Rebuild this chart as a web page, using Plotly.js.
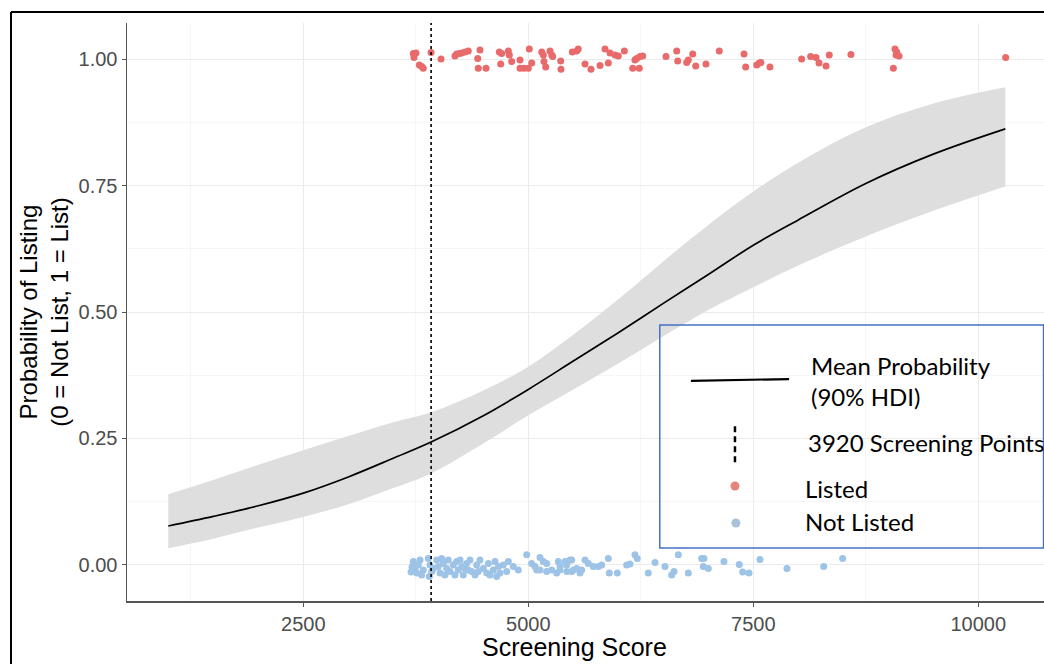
<!DOCTYPE html>
<html>
<head>
<meta charset="utf-8">
<script src="https://cdn.plot.ly/plotly-3.0.1.min.js"></script>
<style>html,body{margin:0;padding:0;background:#fff;overflow:hidden;}#chart{width:1044px;height:664px;}</style>
</head>
<body>
<div id="chart"></div>
<script>
// Mean posterior probability curve and 90% HDI band
const curveX = [1000, 1500, 2000, 2500, 3000, 3500, 3920, 4500, 5000, 5500, 6000, 6500, 7000, 7500, 8000, 8750, 9500, 10300];
const curveMean = [0.077, 0.096, 0.117, 0.142, 0.174, 0.211, 0.243, 0.295, 0.347, 0.403, 0.459, 0.517, 0.574, 0.632, 0.682, 0.754, 0.812, 0.862];
const hdiUpper = [0.140, 0.168, 0.198, 0.227, 0.255, 0.282, 0.302, 0.345, 0.392, 0.455, 0.525, 0.600, 0.672, 0.738, 0.795, 0.865, 0.912, 0.944];
const hdiLower = [0.033, 0.052, 0.074, 0.095, 0.120, 0.152, 0.181, 0.240, 0.296, 0.347, 0.398, 0.452, 0.504, 0.549, 0.592, 0.649, 0.700, 0.748];

// Cut-off line
const cutoffX = [3920];

// Listed applicants (jittered around 1)
const listedX = [3722, 3752, 3730, 3789, 3815, 3833, 3919, 4030, 4185, 4204, 4233, 4260, 4297, 4333, 4438, 4463, 4444, 4530, 4678, 4704, 4778, 4789, 4693, 4815, 4908, 4908, 4952, 5000, 5011, 5038, 5149, 5167, 5174, 5193, 5241, 5260, 5271, 5360, 5363, 5489, 5538, 5555, 5630, 5697, 5797, 5852, 5889, 5908, 5963, 6000, 6067, 6160, 6185, 6204, 6233, 6241, 6271, 6530, 6649, 6660, 6760, 6778, 6827, 6860, 6974, 7122, 7397, 7415, 7538, 7567, 7585, 7685, 8037, 8137, 8197, 8230, 8308, 8344, 8585, 9074, 9093, 9086, 9119, 9056, 10304];
const listedY = [1.011, 1.012, 1.003, 0.988, 0.985, 0.982, 1.013, 1.000, 1.006, 1.010, 1.011, 1.012, 1.014, 1.016, 1.001, 1.018, 0.982, 0.982, 1.014, 1.011, 1.016, 1.008, 0.990, 0.995, 0.998, 0.982, 0.982, 0.982, 1.020, 0.992, 1.014, 1.008, 0.995, 0.984, 1.016, 1.008, 1.005, 0.996, 0.980, 1.014, 1.016, 1.020, 0.990, 0.980, 0.987, 1.020, 0.992, 1.012, 1.008, 1.006, 1.016, 0.982, 0.998, 1.001, 0.982, 1.005, 1.006, 1.005, 1.016, 0.996, 0.993, 0.998, 1.010, 0.986, 0.990, 1.016, 1.010, 0.984, 0.988, 0.992, 0.993, 0.984, 1.000, 1.005, 1.003, 0.992, 0.986, 1.008, 1.009, 1.020, 1.014, 1.008, 1.006, 0.982, 1.003];

// Not listed applicants (jittered around 0)
const notListedX = [3697, 3708, 3722, 3741, 3778, 3760, 3815, 3833, 3797, 3889, 3908, 3927, 3900, 3944, 3982, 4000, 4019, 4037, 4056, 4093, 4074, 4111, 4130, 4167, 4185, 4204, 4222, 4241, 4260, 4278, 4297, 4315, 4333, 4352, 4371, 4408, 4426, 4444, 4463, 4500, 4538, 4556, 4574, 4611, 4630, 4648, 4667, 4685, 4722, 4760, 4778, 4833, 4889, 4982, 5038, 5074, 5093, 5130, 5130, 5167, 5204, 5204, 5260, 5315, 5333, 5352, 5352, 5408, 5426, 5427, 5463, 5482, 5482, 5500, 5538, 5574, 5593, 5630, 5667, 5722, 5778, 5815, 5889, 5900, 5989, 6093, 6130, 6185, 6211, 6333, 6408, 6519, 6593, 6619, 6667, 6778, 6926, 6952, 6944, 7000, 7174, 7344, 7382, 7452, 7574, 7874, 8282, 8493];
const notListedY = [-0.014, -0.004, 0.007, -0.007, 0.000, -0.016, -0.020, -0.010, 0.010, 0.013, 0.000, -0.013, -0.023, -0.007, 0.010, -0.003, -0.016, 0.013, 0.003, -0.007, -0.020, 0.010, -0.013, 0.000, -0.020, 0.007, -0.010, 0.010, -0.003, -0.020, -0.007, 0.003, -0.010, 0.010, -0.013, -0.020, 0.000, -0.013, 0.010, -0.007, -0.016, 0.003, -0.020, -0.010, 0.007, -0.023, -0.003, -0.016, 0.000, -0.013, 0.007, -0.003, -0.010, 0.020, 0.003, -0.003, -0.010, 0.015, -0.010, 0.007, -0.013, 0.003, -0.010, -0.016, 0.007, -0.003, -0.010, 0.007, 0.000, -0.013, 0.010, 0.010, -0.013, -0.010, -0.007, -0.016, -0.010, 0.010, 0.003, -0.003, -0.003, 0.000, 0.013, -0.016, -0.016, 0.000, 0.002, 0.020, 0.013, -0.016, 0.005, -0.003, -0.020, -0.013, 0.020, -0.016, 0.013, 0.013, -0.003, -0.007, 0.007, 0.001, -0.014, -0.016, 0.011, -0.007, -0.003, 0.013];

// Tick labels
const yTickVals = [0, 0.25, 0.5, 0.75, 1];
const yTickText = ['0.00', '0.25', '0.50', '0.75', '1.00'];
const xTickVals = [2500, 5000, 7500, 10000];
const xTickText = ['2500', '5000', '7500', '10000'];

// Legend labels
const legendLabels = ['Mean Probability', '(90% HDI)', '3920 Screening Points', 'Listed', 'Not Listed'];

const red = '#E96A6B';
const blue = '#9DC3E6';

const traces = [
  {x: curveX, y: hdiLower, type: 'scatter', mode: 'lines', line: {width: 0, color: 'rgba(0,0,0,0)', shape: 'spline'}, showlegend: false, hoverinfo: 'skip'},
  {x: curveX, y: hdiUpper, type: 'scatter', mode: 'lines', fill: 'tonexty', fillcolor: 'rgb(222,222,222)', line: {width: 0, color: 'rgba(0,0,0,0)', shape: 'spline'}, showlegend: false, hoverinfo: 'skip'},
  {x: curveX, y: curveMean, type: 'scatter', mode: 'lines', line: {color: '#000', width: 1.7, shape: 'spline'}, name: 'Mean Probability', showlegend: false},
  {x: listedX, y: listedY, type: 'scatter', mode: 'markers', marker: {color: red, size: 7}, name: 'Listed', showlegend: false},
  {x: notListedX, y: notListedY, type: 'scatter', mode: 'markers', marker: {color: blue, size: 7}, name: 'Not Listed', showlegend: false}
];

const legFont = {family: 'Lato, "Open Sans", sans-serif', size: 24, color: '#000'};

const shapes = [
  // cutoff dotted line
  {type: 'line', xref: 'x', yref: 'paper', x0: cutoffX[0], x1: cutoffX[0], y0: 0, y1: 1, line: {color: '#000', width: 1.6, dash: 'dot'}},
  // outer frame (left and top)
  {type: 'line', xref: 'paper', yref: 'paper', x0: -0.1265, x1: -0.1265, y0: -0.12, y1: 1.019, line: {color: '#000', width: 2}},
  {type: 'line', xref: 'paper', yref: 'paper', x0: -0.1265, x1: 1.01, y0: 1.019, y1: 1.019, line: {color: '#000', width: 2}},
  // legend box
  {type: 'rect', xref: 'paper', yref: 'paper', x0: 0.581, x1: 0.9995, y0: 0.0917, y1: 0.4775, line: {color: '#4472C4', width: 1.5}, fillcolor: 'rgba(0,0,0,0)'},
  // legend keys
  {type: 'line', xref: 'paper', yref: 'paper', x0: 0.615, x1: 0.722, y0: 0.381, y1: 0.384, line: {color: '#000', width: 2.2}},
  {type: 'line', xref: 'paper', yref: 'paper', x0: 0.663, x1: 0.663, y0: 0.240, y1: 0.306, line: {color: '#000', width: 2.5, dash: '6px,4px'}},
  {type: 'circle', xref: 'paper', yref: 'paper', xsizemode: 'pixel', ysizemode: 'pixel', xanchor: 0.663, yanchor: 0.199, x0: -4.5, x1: 4.5, y0: -4.5, y1: 4.5, fillcolor: '#E8837B', line: {width: 0}},
  {type: 'circle', xref: 'paper', yref: 'paper', xsizemode: 'pixel', ysizemode: 'pixel', xanchor: 0.664, yanchor: 0.135, x0: -4.5, x1: 4.5, y0: -4.5, y1: 4.5, fillcolor: '#A9C2D8', line: {width: 0}}
];

const annotations = [
  {xref: 'paper', yref: 'paper', x: 0.744, y: 0.4066, xanchor: 'left', yanchor: 'middle', text: legendLabels[0], showarrow: false, font: legFont},
  {xref: 'paper', yref: 'paper', x: 0.744, y: 0.353, xanchor: 'left', yanchor: 'middle', text: legendLabels[1], showarrow: false, font: legFont},
  {xref: 'paper', yref: 'paper', x: 0.740, y: 0.275, xanchor: 'left', yanchor: 'middle', text: legendLabels[2], showarrow: false, font: legFont},
  {xref: 'paper', yref: 'paper', x: 0.737, y: 0.194, xanchor: 'left', yanchor: 'middle', text: legendLabels[3], showarrow: false, font: legFont},
  {xref: 'paper', yref: 'paper', x: 0.737, y: 0.138, xanchor: 'left', yanchor: 'middle', text: legendLabels[4], showarrow: false, font: legFont},
  // x axis title
  {xref: 'paper', yref: 'paper', x: 0.4885, y: -0.0796, xanchor: 'center', yanchor: 'middle', text: 'Screening Score', showarrow: false, font: {family: '"Liberation Sans", Arial, sans-serif', size: 25, color: '#000'}}
];

const layout = {
  width: 1044, height: 664,
  margin: {l: 127, r: 0, t: 23, b: 63},
  paper_bgcolor: '#fff', plot_bgcolor: '#fff',
  showlegend: false,
  font: {family: '"Liberation Sans", Arial, sans-serif'},
  xaxis: {
    range: [541, 10730], tickvals: xTickVals, ticktext: xTickText,
    showgrid: true, gridcolor: '#ebebeb', gridwidth: 1,
    minor: {dtick: 1250, tick0: 0, showgrid: true, gridcolor: '#f4f4f4', gridwidth: 0.8},
    zeroline: false, showline: true, linecolor: '#555', linewidth: 1.5,
    ticks: 'outside', ticklen: 4, tickcolor: '#555', tickwidth: 1,
    tickfont: {size: 20, color: '#4d4d4d'}
  },
  yaxis: {
    range: [-0.0712, 1.0712], tickvals: yTickVals, ticktext: yTickText,
    showgrid: true, gridcolor: '#ebebeb', gridwidth: 1,
    minor: {dtick: 0.125, tick0: 0, showgrid: true, gridcolor: '#f4f4f4', gridwidth: 0.8},
    zeroline: false, showline: true, linecolor: '#555', linewidth: 1.5,
    ticks: 'outside', ticklen: 4, tickcolor: '#555', tickwidth: 1,
    tickfont: {size: 20, color: '#4d4d4d'},
    title: {text: 'Probability of Listing<br>(0 = Not List, 1 = List)', font: {size: 24, color: '#000'}, standoff: 3}
  },
  shapes: shapes,
  annotations: annotations
};

Plotly.newPlot('chart', traces, layout, {displayModeBar: false, staticPlot: true});
</script>
</body>
</html>
